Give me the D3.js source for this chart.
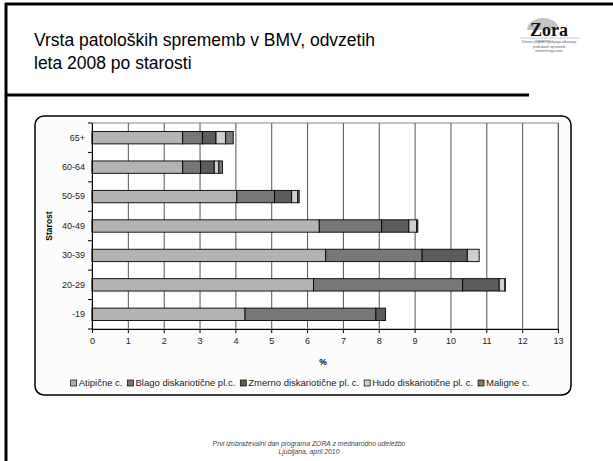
<!DOCTYPE html>
<html>
<head>
<meta charset="utf-8">
<script src="https://cdn.jsdelivr.net/npm/d3@7.9.0/dist/d3.min.js"></script>
<style>
  html, body { margin: 0; padding: 0; background: #fff; }
  svg { display: block; font-family: "Liberation Sans", Arial, sans-serif; }
</style>
</head>
<body>
<svg id="slide" width="613" height="461"></svg>
<script>
// age groups, top to bottom
const categories = ['65+', '60-64', '50-59', '40-49', '30-39', '20-29', '-19'];

// % per age group
const atipicne = [2.53, 2.53, 4.04, 6.34, 6.52, 6.18, 4.27];
const blago    = [0.55, 0.50, 1.05, 1.74, 2.69, 4.16, 3.65];
const zmerno   = [0.38, 0.38, 0.48, 0.76, 1.26, 1.02, 0.27];
const hudo     = [0.27, 0.13, 0.17, 0.22, 0.33, 0.16, 0.00];
const maligne  = [0.21, 0.10, 0.04, 0.03, 0.00, 0.01, 0.00];

const seriesNames = ['Atipične c.', 'Blago diskariotične pl.c.', 'Zmerno diskariotične pl. c.',
  'Hudo diskariotične pl. c.', 'Maligne c.'];
const seriesKeys = ['atipicne', 'blago', 'zmerno', 'hudo', 'maligne'];
const seriesColors = ['#b3b3b3', '#777777', '#5c5c5c', '#cfcfcf', '#7a7a7a'];

const xTicks = d3.range(0, 14);

const titleLines = ['Vrsta patoloških sprememb v BMV, odvzetih', 'leta 2008 po starosti'];
const footerLines = ['Prvi izobraževalni dan programa ZORA z mednarodno udeležbo', 'Ljubljana, april 2010'];
const logoLines = ['Državni program zgodnjega odkrivanja', 'predrakavih sprememb', 'materničnega vratu'];

const rows = categories.map((c, i) => ({
  cat: c, atipicne: atipicne[i], blago: blago[i], zmerno: zmerno[i], hudo: hudo[i], maligne: maligne[i]
}));

const svg = d3.select('#slide');

// slide frame
svg.append('line').attr('x1', 6).attr('x2', 6).attr('y1', 3).attr('y2', 461)
  .attr('stroke', '#000').attr('stroke-width', 3);
svg.append('line').attr('x1', 5).attr('x2', 613).attr('y1', 4).attr('y2', 4)
  .attr('stroke', '#000').attr('stroke-width', 3);
svg.append('line').attr('x1', 5).attr('x2', 529).attr('y1', 95).attr('y2', 95)
  .attr('stroke', '#000').attr('stroke-width', 3);

// title
svg.append('text')
  .attr('x', 34).attr('y', 46)
  .attr('font-size', 17.5).attr('fill', '#000')
  .selectAll('tspan').data(titleLines).join('tspan')
  .attr('x', 34).attr('dy', (d, i) => i ? 23 : 0)
  .text(d => d);

// logo
const logo = svg.append('g');
logo.append('ellipse').attr('cx', 543).attr('cy', 30).attr('rx', 16).attr('ry', 12).attr('fill', '#c4c4c4');
logo.append('rect').attr('x', 524).attr('y', 30).attr('width', 40).attr('height', 10).attr('fill', '#fff');
logo.append('text').attr('x', 549).attr('y', 36).attr('text-anchor', 'middle')
  .attr('font-family', '"Liberation Serif", "DejaVu Serif", serif').attr('font-weight', 'bold')
  .attr('font-size', 18).attr('fill', '#111').text('Zora');
logo.append('line').attr('x1', 520).attr('x2', 580).attr('y1', 38).attr('y2', 38)
  .attr('stroke', '#bbb').attr('stroke-width', 0.8);
logo.selectAll('.ll').data(logoLines).join('text')
  .attr('x', 549).attr('y', (d, i) => 43 + i * 4.5)
  .attr('text-anchor', 'middle').attr('font-size', 3.2).attr('fill', '#555')
  .text(d => d);

// chart box
svg.append('rect')
  .attr('x', 35).attr('y', 116).attr('width', 536).attr('height', 279).attr('rx', 9)
  .attr('fill', '#fcfcfc').attr('stroke', '#000').attr('stroke-width', 1.5);

const plot = { left: 92, right: 558, top: 123, bottom: 329 };

const x = d3.scaleLinear().domain([0, 13]).range([plot.left, plot.right]);
const y = d3.scaleBand().domain(categories).range([plot.top, plot.bottom])
  .paddingInner(0.58).paddingOuter(0.29);

// plot background
svg.append('rect')
  .attr('x', plot.left).attr('y', plot.top)
  .attr('width', plot.right - plot.left).attr('height', plot.bottom - plot.top)
  .attr('fill', '#fff').attr('stroke', '#888').attr('stroke-width', 1);

// gridlines
svg.append('g')
  .attr('transform', `translate(0,${plot.bottom})`)
  .call(d3.axisBottom(x).tickValues(xTicks).tickSize(-(plot.bottom - plot.top)).tickFormat(''))
  .call(g => g.select('.domain').remove())
  .call(g => g.selectAll('line').attr('stroke', '#555').attr('stroke-width', 1));

// stacked bars
const stack = d3.stack().keys(seriesKeys);
const stacked = stack(rows);

svg.append('g').selectAll('g').data(stacked).join('g')
  .attr('fill', (d, i) => seriesColors[i])
  .selectAll('rect').data(d => d.filter(s => s[1] - s[0] > 0)).join('rect')
  .attr('x', d => x(d[0]))
  .attr('y', d => y(d.data.cat))
  .attr('width', d => x(d[1]) - x(d[0]))
  .attr('height', y.bandwidth())
  .attr('stroke', '#000').attr('stroke-width', 0.9);

// x axis
svg.append('g')
  .attr('transform', `translate(0,${plot.bottom})`)
  .call(d3.axisBottom(x).tickValues(xTicks).tickSize(4).tickPadding(5).tickFormat(d3.format('d')))
  .call(g => g.select('.domain').attr('stroke', '#000'))
  .call(g => g.selectAll('line').attr('stroke', '#000'))
  .call(g => g.selectAll('text').attr('font-size', 9).attr('fill', '#222')
    .attr('font-family', '"Liberation Sans", Arial, sans-serif'));

// y axis: labels at band centres, ticks between categories
svg.append('g')
  .attr('transform', `translate(${plot.left},0)`)
  .call(d3.axisLeft(y).tickSize(0).tickPadding(7))
  .call(g => g.select('.domain').attr('stroke', '#000'))
  .call(g => g.selectAll('text').attr('font-size', 9).attr('fill', '#222')
    .attr('font-family', '"Liberation Sans", Arial, sans-serif'));

const bounds = d3.range(categories.length + 1).map(i => plot.top + i * y.step());
svg.append('g').selectAll('line').data(bounds).join('line')
  .attr('x1', plot.left - 4).attr('x2', plot.left)
  .attr('y1', d => d).attr('y2', d => d)
  .attr('stroke', '#000');

// axis titles
svg.append('text')
  .attr('x', 323).attr('y', 365)
  .attr('text-anchor', 'middle').attr('font-size', 8.5).attr('font-weight', 'bold')
  .text('%');

svg.append('text')
  .attr('transform', `translate(52,${(plot.top + plot.bottom) / 2}) rotate(-90)`)
  .attr('text-anchor', 'middle').attr('font-size', 8.5).attr('font-weight', 'bold')
  .text('Starost');

// legend
const legend = svg.append('g').attr('transform', 'translate(0,383)');
const items = legend.selectAll('g').data(seriesNames).join('g');
items.append('rect')
  .attr('x', 0).attr('y', -3).attr('width', 6).attr('height', 6)
  .attr('fill', (d, i) => seriesColors[i]).attr('stroke', '#000').attr('stroke-width', 0.7);
items.append('text')
  .attr('x', 8).attr('y', 3.3)
  .attr('font-size', 9.5).attr('fill', '#222')
  .text(d => d);

let widths = [];
items.each(function () { widths.push(8 + this.querySelector('text').getComputedTextLength()); });
const gap = 5;
const total = d3.sum(widths) + gap * (widths.length - 1);
let cursor = 300 - total / 2;
items.attr('transform', (d, i) => {
  const t = `translate(${cursor},0)`;
  cursor += widths[i] + gap;
  return t;
});

// footer
svg.append('text')
  .attr('text-anchor', 'middle').attr('font-size', 6.8).attr('font-style', 'italic').attr('fill', '#444')
  .selectAll('tspan').data(footerLines).join('tspan')
  .attr('x', 309).attr('y', (d, i) => 446 + i * 7.5)
  .text(d => d);
</script>
</body>
</html>
